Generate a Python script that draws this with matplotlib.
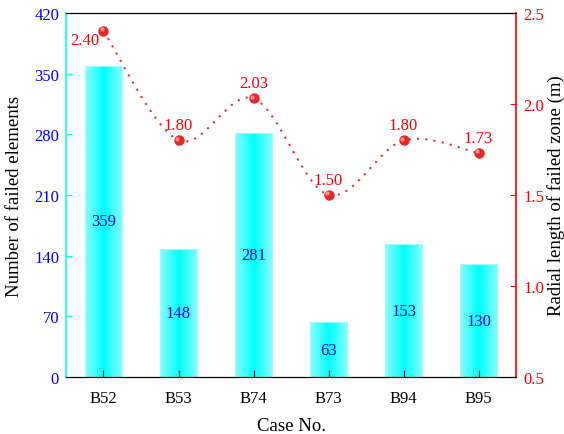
import numpy as np
import matplotlib.pyplot as plt
from matplotlib.path import Path
from matplotlib.patches import PathPatch
from matplotlib.colors import LinearSegmentedColormap

cases = ["B52", "B53", "B74", "B73", "B94", "B95"]
failed_elements = [359, 148, 281, 63, 153, 130]
radial_length = [2.40, 1.80, 2.03, 1.50, 1.80, 1.73]
radial_labels = ["2.40", "1.80", "2.03", "1.50", "1.80", "1.73"]

plt.rcParams['font.family'] = ['Liberation Serif', 'DejaVu Serif']

fig = plt.figure(figsize=(5.64, 4.35), dpi=100)
ax = fig.add_axes([0.117, 0.131, 0.798, 0.837])
x = np.arange(len(cases))

# bars with a cyan gradient (light edges, bright center)
bars = ax.bar(x, failed_elements, width=0.5, color='none', edgecolor='#9ffcfc', linewidth=0.8, zorder=2)
grad = np.abs(np.linspace(-1, 1, 64))[None, :]
cmap = LinearSegmentedColormap.from_list('cy', ['#00ffff', '#8afcfc'])
for b in bars:
    x0, w, h = b.get_x(), b.get_width(), b.get_height()
    im = ax.imshow(grad, cmap=cmap, extent=[x0, x0 + w, 0, h], aspect='auto', zorder=1, vmin=0, vmax=1)
    im.set_clip_path(b)
for xi, v in zip(x, failed_elements):
    ax.text(xi, v / 2, str(v), color='blue', ha='center', va='center', fontsize=12)

ax.set_xlim(-0.5, 5.5)
ax.set_ylim(0, 420)
ax.set_yticks(np.arange(0, 421, 70))
ax.set_xticks(x)
ax.set_xticklabels(cases, fontsize=12)
ax.tick_params(axis='y', direction='in', colors='cyan', labelcolor='blue', labelsize=12, length=4, pad=5)
ax.tick_params(axis='x', direction='in', labelsize=12, length=5, pad=9)
ax.spines['left'].set_color('cyan')
ax.spines['left'].set_linewidth(1.2)
ax.spines['right'].set_visible(False)
ax.set_xlabel("Case No.", fontsize=13.5, labelpad=8)
ax.set_ylabel("Number of failed elements", fontsize=13.5, labelpad=8)

ax2 = ax.twinx()
ax2.set_ylim(0.5, 2.5)
ax2.set_yticks([0.5, 1.0, 1.5, 2.0, 2.5])
ax2.tick_params(axis='y', direction='in', colors='red', labelcolor='red', labelsize=12, length=4, pad=5)
ax2.spines['right'].set_color('red')
ax2.spines['right'].set_linewidth(1.2)
ax2.spines['left'].set_visible(False)
ax2.set_ylabel("Radial length of failed zone (m)", fontsize=13.5, labelpad=2)

# smooth dotted curve through the points (Catmull-Rom as bezier)
pts = list(zip(x.astype(float), radial_length))
verts = [pts[0]]
codes = [Path.MOVETO]
for i in range(len(pts) - 1):
    p0 = pts[i - 1] if i > 0 else pts[i]
    p1, p2 = pts[i], pts[i + 1]
    p3 = pts[i + 2] if i + 2 < len(pts) else pts[i + 1]
    c1 = (p1[0] + (p2[0] - p0[0]) / 6, p1[1] + (p2[1] - p0[1]) / 6)
    c2 = (p2[0] - (p3[0] - p1[0]) / 6, p2[1] - (p3[1] - p1[1]) / 6)
    verts += [c1, c2, p2]
    codes += [Path.CURVE4] * 3
ax2.add_patch(PathPatch(Path(verts, codes), fill=False, edgecolor='#e83030',
                        linestyle=(0, (1, 3)), linewidth=1.5, zorder=3))
ax2.plot(x, radial_length, 'o', color='#e82828', markersize=6.5, zorder=4)
ax2.plot(x - 0.02, np.array(radial_length) + 0.01, 'o', color='#ff9090', markersize=2, zorder=5)
for i, (xi, v, lab) in enumerate(zip(x, radial_length, radial_labels)):
    if i == 0:
        ax2.text(xi - 0.06, v - 0.05, lab, color='red', ha='right', va='center', fontsize=12)
    else:
        ax2.text(xi, v + 0.04, lab, color='red', ha='center', va='bottom', fontsize=12)

fig.savefig("out.png", dpi=100)
